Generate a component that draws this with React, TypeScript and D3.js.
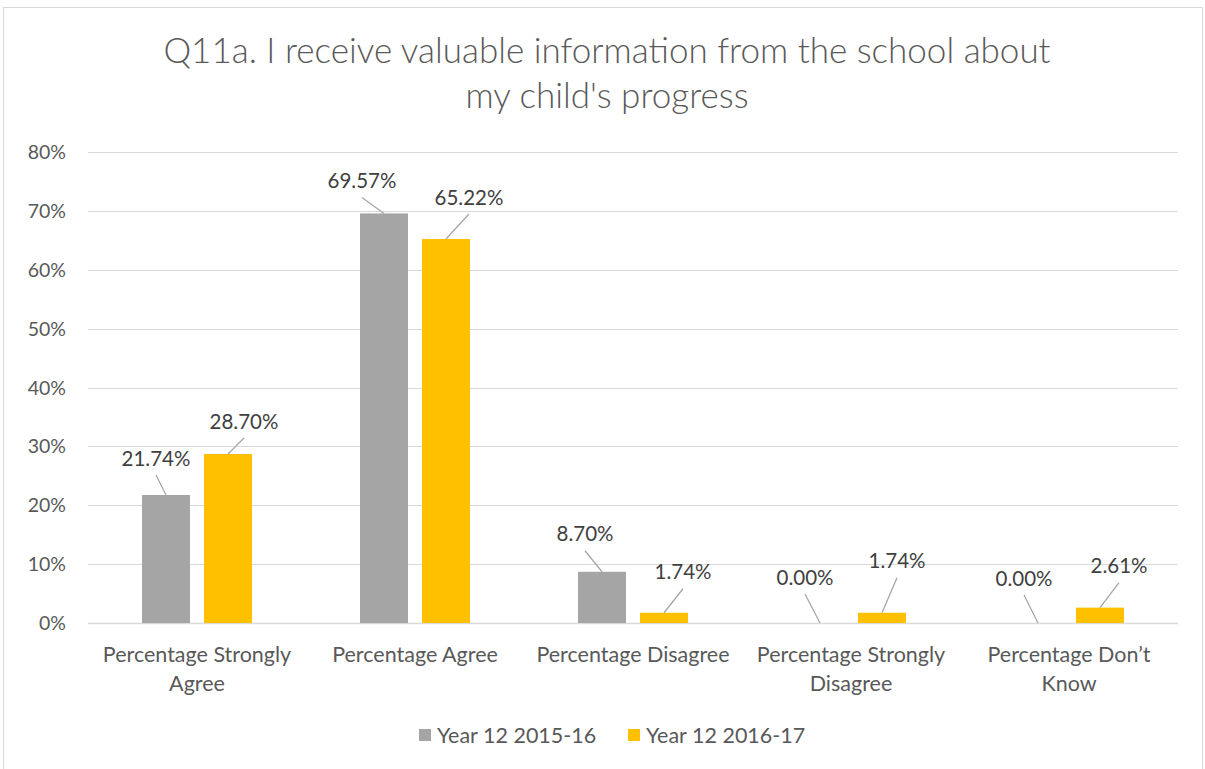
import React from "react";
import * as d3 from "d3";

const categories = [
  ["Percentage Strongly", "Agree"],
  ["Percentage Agree"],
  ["Percentage Disagree"],
  ["Percentage Strongly", "Disagree"],
  ["Percentage Don\u2019t", "Know"],
];
const series2015 = [21.74, 69.57, 8.7, 0.0, 0.0];
const series2016 = [28.7, 65.22, 1.74, 1.74, 2.61];
const seriesNames = ["Year 12 2015-16", "Year 12 2016-17"];
const yTicks = [0, 10, 20, 30, 40, 50, 60, 70, 80];
const title = ["Q11a. I receive valuable information from the school about", "my child's progress"];

// layout: label text-centre offsets from bar top centre (moved labels)
const labelOffsets2015 = [[-10, -37], [-22, -33], [-17, -38], [-15, -46], [-14, -45]];
const labelOffsets2016 = [[16, -33], [23, -42], [19, -41], [15, -52], [19, -42]];

const W = 1205;
const H = 769;
const colors = ["#a5a5a5", "#ffc000"];
const FONT = "Lato, 'Open Sans', sans-serif";

export default function App() {
  const x0 = d3.scaleBand<number>().domain(d3.range(categories.length)).range([88, 1178]);
  const y = d3.scaleLinear().domain([0, 80]).range([623, 152]);
  const barW = 48;
  const gap = 14;
  const bw = x0.bandwidth();
  const allSeries = [series2015, series2016];
  const offsets = [labelOffsets2015, labelOffsets2016];

  const barX = (s: number, i: number) =>
    (x0(i) as number) + bw / 2 + (s === 0 ? -gap / 2 - barW : gap / 2);

  return (
    <div style={{ position: "fixed", left: 0, top: 0 }}>
      <svg width={W} height={H} style={{ display: "block", background: "#fff" }}>
        <rect x={3.5} y={7.5} width={1199} height={770} fill="#fff" stroke="#d9d9d9" strokeWidth={1} />
        {title.map((t, i) => (
          <text
            key={i}
            x={607}
            y={63 + i * 45}
            textAnchor="middle"
            fontFamily={FONT}
            fontWeight={300}
            fontSize={35}
            fill="#595959"
          >
            {t}
          </text>
        ))}
        {yTicks.map((t) => (
          <g key={t}>
            <line x1={88} x2={1178} y1={Math.round(y(t)) + 0.5} y2={Math.round(y(t)) + 0.5} stroke="#d9d9d9" strokeWidth={t === 0 ? 1.5 : 1} />
            <text x={66} y={y(t) + 7} textAnchor="end" fontFamily={FONT} fontSize={19.5} fill="#595959">
              {t}%
            </text>
          </g>
        ))}
        {allSeries.map((vals, s) =>
          vals.map((v, i) => (
            <rect key={`${s}-${i}`} x={barX(s, i)} y={y(v)} width={barW} height={y(0) - y(v)} fill={colors[s]} />
          ))
        )}
        {allSeries.map((vals, s) =>
          vals.map((v, i) => {
            const cx = barX(s, i) + barW / 2;
            const top = y(v);
            const [dx, dy] = offsets[s][i];
            return (
              <g key={`l${s}-${i}`}>
                <line x1={cx} y1={top} x2={cx + dx} y2={top + dy + 17} stroke="#a6a6a6" strokeWidth={1.3} />
                <text x={cx + dx} y={top + dy + 7.5} textAnchor="middle" fontFamily={FONT} fontSize={20.5} fill="#404040">
                  {v.toFixed(2)}%
                </text>
              </g>
            );
          })
        )}
        {categories.map((lines, i) =>
          lines.map((l, j) => (
            <text
              key={`c${i}-${j}`}
              x={(x0(i) as number) + bw / 2}
              y={662 + j * 29}
              textAnchor="middle"
              fontFamily={FONT}
              fontSize={21.5}
              fill="#595959"
            >
              {l}
            </text>
          ))
        )}
        {seriesNames.map((n, s) => (
          <g key={n} transform={`translate(${s === 0 ? 419 : 628},729)`}>
            <rect width={12} height={12} fill={colors[s]} />
            <text x={18} y={14} fontFamily={FONT} fontSize={21.5} fill="#595959">
              {n}
            </text>
          </g>
        ))}
      </svg>
    </div>
  );
}
